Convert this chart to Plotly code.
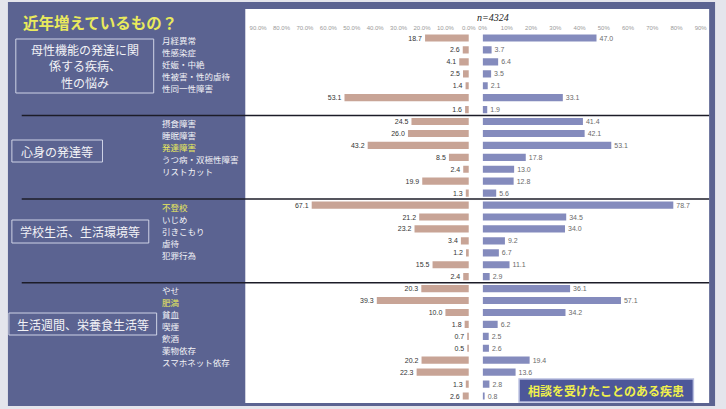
import plotly.graph_objects as go

W, H = 726, 409

# ---- data -------------------------------------------------------------
title_text = "近年増えているもの？"
sample_note = "n=4324"
legend_note = "相談を受けたことのある疾患"

group_titles = [
    ["母性機能の発達に関", "係する疾病、", "性の悩み"],
    ["心身の発達等"],
    ["学校生活、生活環境等"],
    ["生活週間、栄養食生活等"],
]

# one entry per bar row (rows without a printed name are left blank)
item_labels = [
    "月経異常", "性感染症", "妊娠・中絶", "性被害・性的虐待", "性同一性障害", "", "",
    "摂食障害", "睡眠障害", "発達障害", "うつ病・双極性障害", "リストカット", "", "",
    "不登校", "いじめ", "引きこもり", "虐待", "犯罪行為", "", "",
    "やせ", "肥満", "貧血", "喫煙", "飲酒", "薬物依存", "スマホネット依存", "", "", "",
]
highlighted = ["発達障害", "不登校", "肥満"]
group_sizes = [7, 7, 7, 10]

left_pct = [
    18.7, 2.6, 4.1, 2.5, 1.4, 53.1, 1.6,
    24.5, 26.0, 43.2, 8.5, 2.4, 19.9, 1.3,
    67.1, 21.2, 23.2, 3.4, 1.2, 15.5, 2.4,
    20.3, 39.3, 10.0, 1.8, 0.7, 0.5, 20.2, 22.3, 1.3, 2.6,
]
right_pct = [
    47.0, 3.7, 6.4, 3.5, 2.1, 33.1, 1.9,
    41.4, 42.1, 53.1, 17.8, 13.0, 12.8, 5.6,
    78.7, 34.5, 34.0, 9.2, 6.7, 11.1, 2.9,
    36.1, 57.1, 34.2, 6.2, 2.5, 2.6, 19.4, 13.6, 2.8, 0.8,
]

left_ticks = [0, 10, 20, 30, 40, 50, 60, 70, 80, 90]
left_tick_text = ["0.0%", "10.0%", "20.0%", "30.0%", "40.0%", "50.0%",
                  "60.0%", "70.0%", "80.0%", "90.0%"]
right_ticks = [0, 10, 20, 30, 40, 50, 60, 70, 80, 90]
right_tick_text = ["0%", "10%", "20%", "30%", "40%", "50%",
                   "60%", "70%", "80%", "90%"]

# ---- styling ----------------------------------------------------------
SLATE = "#5b6391"
BROWN = "#c8a496"
BLUE = "#848bbd"
YELLOW = "#eaea5c"
WHITE_TXT = "#f2f2f6"
FONT = "Noto Sans CJK JP"


def X(px):
    return px / W


def Y(py):
    return 1 - py / H


rows = list(range(len(left_pct)))
n_rows = len(rows)

# pixel geometry of the plotting region
row_top, row_bot = 38, 396
step = (row_bot - row_top) / (n_rows - 1)
y_dom = [Y(row_bot + step / 2), Y(row_top - step / 2)]

left_zero, left_edge, left_scale = 472, 245, 2.378
right_zero, right_edge, right_scale = 486, 716, 2.46

fig = go.Figure()

fig.add_trace(go.Bar(
    x=left_pct, y=rows, orientation="h", xaxis="x", yaxis="y",
    marker=dict(color=BROWN, line=dict(width=0)), width=0.6,
    text=left_pct, texttemplate="%{x:.1f}", textposition="outside",
    textfont=dict(size=7, color="#333333", family="Liberation Sans"),
    constraintext="none", cliponaxis=False, showlegend=False,
    hoverinfo="skip",
))
fig.add_trace(go.Bar(
    x=right_pct, y=rows, orientation="h", xaxis="x2", yaxis="y",
    marker=dict(color=BLUE, line=dict(width=0)), width=0.6,
    text=right_pct, texttemplate="%{x:.1f}", textposition="outside",
    textfont=dict(size=7, color="#6a6a6a", family="Liberation Sans"),
    constraintext="none", cliponaxis=False, showlegend=False,
    hoverinfo="skip",
))

shapes = []
annotations = []

# outer frame, dark panel and white chart area
shapes.append(dict(type="rect", xref="paper", yref="paper",
                   x0=X(4), x1=X(722), y0=Y(406), y1=Y(2),
                   fillcolor=SLATE, line=dict(width=0), layer="below"))
shapes.append(dict(type="rect", xref="paper", yref="paper",
                   x0=X(245), x1=X(716), y0=Y(403), y1=Y(9),
                   fillcolor="#ffffff", line=dict(width=0), layer="below"))

# group separators
b = 0
for size in group_sizes[:-1]:
    b += size
    shapes.append(dict(type="line", xref="paper", yref="y",
                       x0=X(18), x1=X(716), y0=b - 0.5, y1=b - 0.5,
                       line=dict(color="#1c1c28", width=1.5)))

# group title boxes, one annotation per text line
boxes = [(12, 152, 39, 93), (8, 100, 140, 162), (8, 147, 220, 243), (5, 155, 313, 335)]
line_gap = 16.5
for (x0, x1, y0, y1), lines in zip(boxes, group_titles):
    shapes.append(dict(type="rect", xref="paper", yref="paper",
                       x0=X(x0), x1=X(x1), y0=Y(y1), y1=Y(y0),
                       line=dict(color="#cfd3e6", width=1)))
    cy = (y0 + y1) / 2
    for i, t in enumerate(lines):
        ly = cy + (i - (len(lines) - 1) / 2) * line_gap
        annotations.append(dict(xref="paper", yref="paper",
                                x=X((x0 + x1) / 2), y=Y(ly), text=t,
                                showarrow=False, xanchor="center", yanchor="middle",
                                font=dict(size=12, color=WHITE_TXT, family=FONT)))

# item names beside the bars
for r, name in zip(rows, item_labels):
    if not name:
        continue
    col = YELLOW if name in highlighted else WHITE_TXT
    annotations.append(dict(xref="paper", yref="y", x=X(158), y=r + 0.15,
                            text=name, showarrow=False, xanchor="left",
                            yanchor="middle",
                            font=dict(size=8.5, color=col, family=FONT)))

# heading
annotations.append(dict(xref="paper", yref="paper", x=X(17), y=Y(22),
                        text="<b>" + title_text + "</b>", showarrow=False,
                        xanchor="left", yanchor="middle",
                        font=dict(size=15.5, color=YELLOW, family=FONT)))

# sample size
annotations.append(dict(xref="paper", yref="paper", x=X(478), y=Y(17),
                        text="<i>" + sample_note + "</i>", showarrow=False,
                        xanchor="left", yanchor="middle",
                        font=dict(size=10, color="#222222", family="Liberation Serif")))

# caption box for the right-hand series
shapes.append(dict(type="rect", xref="paper", yref="paper",
                   x0=X(523), x1=X(700), y0=Y(402), y1=Y(379),
                   fillcolor="#4d5799", line=dict(color="#b9bfe0", width=1.5)))
annotations.append(dict(xref="paper", yref="paper", x=X(611.5), y=Y(390.5),
                        text="<b>" + legend_note + "</b>", showarrow=False,
                        xanchor="center", yanchor="middle",
                        font=dict(size=12, color="#f0f04c", family=FONT)))

tick_font = dict(size=6, color="#9a9a9a", family="Liberation Sans")

fig.update_layout(
    width=W, height=H,
    margin=dict(l=0, r=0, t=0, b=0),
    paper_bgcolor="#e4e5ec", plot_bgcolor="rgba(0,0,0,0)",
    barmode="overlay",
    xaxis=dict(domain=[X(left_edge), X(left_zero)],
               range=[(left_zero - left_edge) / left_scale, 0],
               side="top", anchor="y", tickmode="array",
               tickvals=left_ticks, ticktext=left_tick_text,
               tickfont=tick_font, showgrid=False, zeroline=False,
               showline=False, ticks=""),
    xaxis2=dict(domain=[X(right_zero), X(right_edge)],
                range=[0, (right_edge - right_zero) / right_scale],
                side="top", anchor="y", tickmode="array",
                tickvals=right_ticks, ticktext=right_tick_text,
                tickfont=tick_font, showgrid=False, zeroline=False,
                showline=False, ticks=""),
    yaxis=dict(domain=y_dom, range=[n_rows - 0.5, -0.5], visible=False),
    shapes=shapes,
    annotations=annotations,
)

fig.write_html("out.html")
